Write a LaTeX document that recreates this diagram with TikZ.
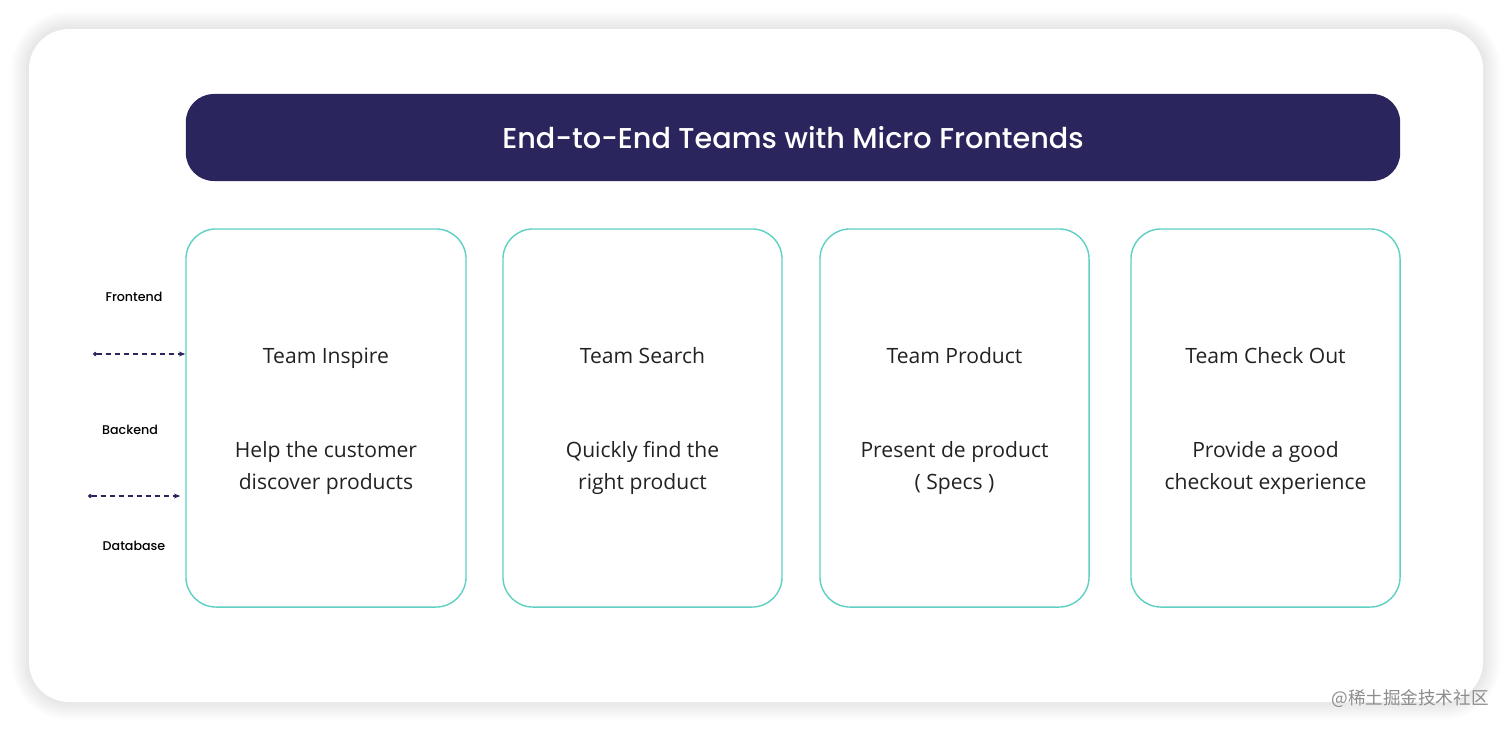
\documentclass[tikz,border=0pt]{standalone}
\usepackage{fontspec}
\setmainfont{Poppins}[UprightFont=* Medium]
\newfontfamily\bodyfont{Open Sans}
\newfontfamily\cjk{Noto Sans CJK SC}
\usetikzlibrary{positioning,arrows.meta}
\definecolor{navy}{HTML}{2A255C}
\definecolor{cardline}{HTML}{5FD0C4}
\definecolor{ink}{HTML}{222222}

\begin{document}
\begin{tikzpicture}[x=0.025cm, y=-0.025cm,
    team/.style = {draw=cardline, line width=1pt, rounded corners=0.75cm,
        minimum height=9.45cm},
    blurb/.style = {align=center, text=ink, yshift=-0.075cm,
        font=\bodyfont\fontsize{15}{22.5}\selectfont},
    layer/.style = {font=\fontsize{9}{11}\selectfont, text=black},
    flow/.style = {navy, line width=0.8pt, dash pattern=on 4pt off 2.4pt,
        {Circle[length=3pt]}-{Stealth[length=4.5pt, width=3.5pt]}}]
    \useasboundingbox (0,0) rectangle (1512,731);
    % card with soft shadow
    \fill[white] (0,0) rectangle (1512,731);
    \foreach \i in {1,...,12}
        \fill[black, opacity=0.009, rounded corners={(40+\i*1.5)*0.025cm}]
            ({29-\i*1.5},{29-\i*1.5}) rectangle ({1483+\i*1.5},{702+\i*1.5});
    \fill[white, rounded corners=1cm] (29,29) rectangle (1483,702);
    % title bar
    \node[fill=navy, rounded corners=0.7cm, minimum width=30.35cm, minimum height=2.175cm,
        text=white, font=\fontsize{20.4}{25}\selectfont] (title) at (793,137.5)
        {End-to-End Teams with Micro Frontends};
    % teams
    \node[team, minimum width=7cm] (inspire) at (326,418) {};
    \node[team, minimum width=6.975cm] (search) at (642.5,418) {};
    \node[team, minimum width=6.725cm] (product) at (954.5,418) {};
    \node[team, minimum width=6.725cm] (checkout) at (1265.5,418) {};
    \foreach \card/\name/\what in {inspire/Team Inspire/Help the customer\\discover products,
        search/Team Search/Quickly find the\\right product,
        product/Team Product/Present de product\\( Specs ),
        checkout/Team Check Out/Provide a good\\checkout experience}
        \node[blurb] (\card-text) at (\card) {\name\\[1.575cm]\what};
    % layers
    \node[layer] (frontend) at (134,297) {Frontend};
    \node[layer] (backend) at (130,430) {Backend};
    \node[layer] (database) at (134,546) {Database};
    \coordinate (fb) at (93,354);
    \coordinate (bd) at (88,496);
    \draw[flow] (fb) -- (inspire.west |- fb);
    \draw[flow] (bd) -- ([xshift=-0.125cm]inspire.west |- bd);
    % watermark
    \node[text=black!45, font=\cjk\fontsize{12.5}{14}\selectfont] (mark) at (1410,699)
        {@稀土掘金技术社区};
\end{tikzpicture}
\end{document}
